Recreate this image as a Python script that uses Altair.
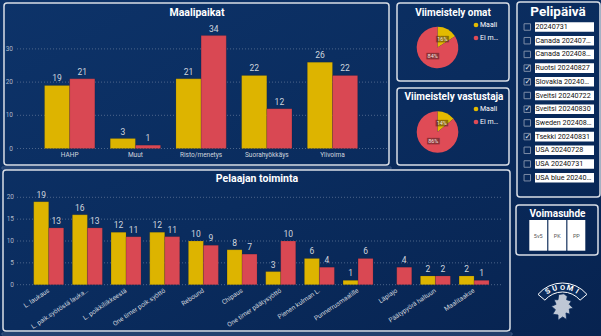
import math
import altair as alt
import pandas as pd

FONT = "Roboto"
YELLOW = "#DDB400"
RED = "#D94853"
PIE_YELLOW = "#E3BA00"
PIE_RED = "#DF4B56"
BORDER = "#d9dee6"
TICK_COL = "#aeb8c8"
VAL_COL = "#cfd5de"
GRID_COL = "#5d7396"

# ---------------- data ----------------
series = ["Omat", "Vastustaja"]

mp_cats = ["HAHP", "Muut", "Risto/menetys", "Suorahyökkäys", "Ylivoima"]
mp_omat = [19, 3, 21, 22, 26]
mp_vast = [21, 1, 34, 12, 22]
mp_ticks = [0, 10, 20, 30]

pt_cats = [
    "L. laukaus",
    "L. paik.syötöstä lauka…",
    "L. poikkiliikkeestä",
    "One timer poik.syöttö",
    "Rebound",
    "Chipaus",
    "One timer päätysyöttö",
    "Pienen kulman L.",
    "Punnerrusmaalille",
    "Läpiajo",
    "Päätypyörä haltuun",
    "Maalitaakse",
]
pt_omat = [19, 16, 12, 12, 10, 8, 3, 6, 1, None, 2, 2]
pt_vast = [13, 13, 11, 11, 9, 7, 10, 4, 6, 4, 2, 1]
pt_ticks = [0, 5, 10, 15, 20]

pie_labels = ["Maali", "Ei maali"]
omat_pct = [16, 84]
vast_pct = [14, 86]

slicer_items = [
    "20240731",
    "Canada 202407…",
    "Canada 202408…",
    "Ruotsi 20240827",
    "Slovakia 20240…",
    "Sveitsi 20240722",
    "Sveitsi 20240830",
    "Sweden 202408…",
    "Tsekki 20240831",
    "USA 20240728",
    "USA 20240731",
    "USA blue 20240…",
]
slicer_checked = [False, False, False, True, True, False, True, False, True, False, False, False]

power_items = ["5v5", "PK", "PP"]
logo_letters = ["S", "U", "O", "M", "I"]

one = pd.DataFrame({"k": [0]})


# ---------------- helpers ----------------
def box(x0, y0, x1, y1, color=BORDER, width=1.5, radius=3):
    return alt.Chart(one).mark_rect(
        fill="rgba(0,0,0,0)", stroke=color, strokeWidth=width, cornerRadius=radius
    ).encode(x=alt.value(x0), x2=alt.value(x1), y=alt.value(y0), y2=alt.value(y1))


def label(txt, x, y, size, weight="normal", color="white", align="center", font=FONT):
    return alt.Chart(one).mark_text(
        text=txt, fontSize=size, fontWeight=weight, color=color, align=align,
        baseline="middle", font=font,
    ).encode(x=alt.value(x), y=alt.value(y))


def bar_group(cats, a, b, ticks, xr, yr, ydom, pad_inner, grid_x, tick_x,
              xlab_y, xlab_angle, xlab_align, xlab_size):
    rows = []
    for c, va, vb in zip(cats, a, b):
        if va is not None:
            rows.append({"cat": c, "s": series[0], "v": va})
        if vb is not None:
            rows.append({"cat": c, "s": series[1], "v": vb})
    df = pd.DataFrame(rows)
    xs = alt.Scale(domain=cats, range=xr, paddingInner=pad_inner, paddingOuter=pad_inner / 2)
    ys = alt.Scale(domain=ydom, range=yr, nice=False, zero=True)
    cs = alt.Scale(domain=series, range=[YELLOW, RED])
    os_ = alt.Scale(domain=series, paddingInner=0, paddingOuter=0)
    tdf = pd.DataFrame({"t": ticks})
    cdf = pd.DataFrame({"cat": cats})

    grid = alt.Chart(tdf).mark_rule(strokeDash=[1, 2], color=GRID_COL, strokeWidth=0.8).encode(
        y=alt.Y("t:Q", scale=ys, axis=None), x=alt.value(grid_x[0]), x2=alt.value(grid_x[1])
    )
    ytxt = alt.Chart(tdf).mark_text(
        align="right", baseline="middle", fontSize=6.5, color=TICK_COL, font=FONT
    ).encode(y=alt.Y("t:Q", scale=ys, axis=None), x=alt.value(tick_x), text=alt.Text("t:Q"))
    bars = alt.Chart(df).mark_bar(stroke="#000000", strokeOpacity=0.15, strokeWidth=0.8).encode(
        x=alt.X("cat:N", scale=xs, axis=None, sort=cats),
        xOffset=alt.XOffset("s:N", scale=os_, sort=series),
        y=alt.Y("v:Q", scale=ys, axis=None),
        color=alt.Color("s:N", scale=cs, legend=None),
    )
    vals = alt.Chart(df).mark_text(
        dy=-7, fontSize=8.5, color=VAL_COL, baseline="middle", font=FONT
    ).encode(
        x=alt.X("cat:N", scale=xs, axis=None, sort=cats),
        xOffset=alt.XOffset("s:N", scale=os_, sort=series),
        y=alt.Y("v:Q", scale=ys, axis=None),
        text=alt.Text("v:Q"),
    )
    xtxt = alt.Chart(cdf).mark_text(
        fontSize=xlab_size, color=VAL_COL, baseline="middle", align=xlab_align,
        angle=xlab_angle, font=FONT,
    ).encode(
        x=alt.X("cat:N", scale=xs, axis=None, sort=cats),
        y=alt.value(xlab_y),
        text=alt.Text("cat:N"),
    )
    return alt.layer(grid, ytxt, bars, vals, xtxt)


def pie_group(pcts, cx, cy, lx, ly):
    df = pd.DataFrame({
        "name": pie_labels,
        "v": pcts,
        "o": list(range(len(pcts))),
        "lab": [f"{p}%" for p in pcts],
    })
    cs = alt.Scale(domain=pie_labels, range=[PIE_YELLOW, PIE_RED])
    base = alt.Chart(df).encode(
        theta=alt.Theta("v:Q", stack=True),
        order=alt.Order("o:Q"),
        x=alt.value(cx),
        y=alt.value(cy),
    )
    arc = base.mark_arc(outerRadius=20.8).encode(color=alt.Color("name:N", scale=cs, legend=None))
    bg = base.mark_text(
        radius=10, text="███", fontSize=5.5, color="#2a1010", opacity=0.45,
        baseline="middle", font="DejaVu Sans",
    )
    lab = base.mark_text(
        radius=10, fontSize=5.5, color="#f0e8e0", baseline="middle", font=FONT
    ).encode(text=alt.Text("lab:N"))
    ys = alt.Scale(type="point", domain=pie_labels, range=[ly, ly + 13], padding=0)
    dots = alt.Chart(df).mark_circle(size=22, opacity=1).encode(
        x=alt.value(lx), y=alt.Y("name:N", scale=ys, axis=None),
        color=alt.Color("name:N", scale=cs, legend=None),
    )
    ltxt = alt.Chart(df).mark_text(
        align="left", baseline="middle", fontSize=7, color="white", limit=22, font=FONT
    ).encode(x=alt.value(lx + 4), y=alt.Y("name:N", scale=ys, axis=None), text=alt.Text("name:N"))
    return alt.layer(arc, bg, lab, dots, ltxt)


def slicer_group():
    df = pd.DataFrame({"item": slicer_items, "checked": slicer_checked})
    ys = alt.Scale(domain=slicer_items, range=[20.15, 184.55], paddingInner=0.3, paddingOuter=0.15)
    y = alt.Y("item:N", scale=ys, axis=None, sort=slicer_items)
    cb = alt.Chart(df).mark_point(
        shape="square", size=42, filled=False, stroke="#7d8ca6", strokeWidth=1, opacity=1
    ).encode(x=alt.value(527.3), y=y)
    chk = alt.Chart(df).transform_filter("datum.checked").mark_text(
        text="✓", fontSize=8, color="#e8ecf2", baseline="middle", font="DejaVu Sans"
    ).encode(x=alt.value(527.8), y=y)
    rect = alt.Chart(df).mark_rect(fill="white").encode(
        x=alt.value(535), x2=alt.value(594), y=y
    )
    txt = alt.Chart(df).mark_text(
        align="left", baseline="middle", fontSize=7.2, color="#111111", font=FONT, limit=59
    ).encode(x=alt.value(535.5), y=y, text=alt.Text("item:N"))
    return alt.layer(cb, chk, rect, txt)


def power_group():
    df = pd.DataFrame({"p": power_items})
    xs = alt.Scale(domain=power_items, range=[529.3, 585.3], paddingInner=0.06, paddingOuter=0)
    x = alt.X("p:N", scale=xs, axis=None, sort=power_items)
    r = alt.Chart(df).mark_rect(fill="white").encode(x=x, y=alt.value(220), y2=alt.value(250.7))
    t = alt.Chart(df).mark_text(fontSize=5.5, color="#555555", baseline="middle", font=FONT).encode(
        x=x, y=alt.value(236), text=alt.Text("p:N")
    )
    return alt.layer(r, t)


# ---------------- assembly ----------------
bg = alt.Chart(one).mark_rect(
    fill=alt.Gradient(
        gradient="linear",
        stops=[
            alt.GradientStop(color="#0d3369", offset=0),
            alt.GradientStop(color="#0a2c5e", offset=0.5),
            alt.GradientStop(color="#072350", offset=1),
        ],
        x1=0, y1=0, x2=1, y2=1,
    )
).encode(x=alt.value(0), x2=alt.value(601), y=alt.value(0), y2=alt.value(336))

shadow1 = box(2, 167, 391, 169, color="#3e5b86", width=1, radius=0)
shadow2 = box(2, 333, 512, 335, color="#3e5b86", width=1, radius=0)

layers = [
    bg, shadow1, shadow2,
    box(4, 3, 389, 165),
    box(397, 3, 509, 81),
    box(397, 88, 509, 165),
    box(3, 170, 510, 331),
    box(517, 2, 600, 197),
    box(516, 205, 598, 255),
    label("Maalipaikat", 197, 13, 10.5, weight="bold"),
    label("Viimeistely omat", 453, 13, 10, weight="bold"),
    label("Viimeistely vastustaja", 454, 97, 10, weight="bold"),
    label("Pelaajan toiminta", 257, 179, 10.5, weight="bold"),
    label("Pelipäivä", 558, 12, 13.5, weight="bold"),
    label("Voimasuhde", 557.5, 214, 10, weight="bold"),
    bar_group(mp_cats, mp_omat, mp_vast, mp_ticks, [36.85, 365.35], [148.5, 48.9], [0, 30],
              0.234, (17, 387), 13, 155, 0, "center", 6.5),
    bar_group(pt_cats, pt_omat, pt_vast, pt_ticks, [29.37, 493.41], [284.7, 197.3], [0, 20],
              0.224, (17, 503), 14, 290, 326, "right", 6.5),
    pie_group(omat_pct, 437.5, 47.5, 476, 25),
    pie_group(vast_pct, 437.5, 132, 476, 109),
    slicer_group(),
    power_group(),
]

# logo: lion emblem (rough silhouette) and banner
LION = ("M-0.25,-0.95 L0.15,-1 L0.4,-0.8 L0.35,-0.55 L0.7,-0.45 L0.55,-0.2 L0.85,0.1 "
        "L0.55,0.15 L0.6,0.55 L0.3,0.45 L0.35,0.95 L0.05,0.75 L-0.3,1 L-0.3,0.6 "
        "L-0.7,0.55 L-0.5,0.2 L-0.8,-0.05 L-0.45,-0.2 L-0.6,-0.55 L-0.3,-0.55 Z")
layers.append(
    alt.Chart(one).mark_point(
        shape=LION, size=700, filled=True, fill="#dfe4ec", stroke="#0a2b5c",
        strokeWidth=0.8, opacity=0.85,
    ).encode(x=alt.value(562), y=alt.value(307))
)
layers.append(
    alt.Chart(one).mark_arc(
        theta=2 * math.pi - 0.87, theta2=2 * math.pi + 0.87, innerRadius=23, outerRadius=32,
        fill="#0a2b5c", stroke="white", strokeWidth=1,
    ).encode(x=alt.value(562.5), y=alt.value(315))
)
for i, ch in enumerate(logo_letters):
    deg = (i - 2) * 16
    layers.append(
        alt.Chart(one).mark_text(
            text=ch, fontSize=7.5, fontWeight="bold", color="white", baseline="middle",
            theta=math.radians(deg % 360), radius=27.5, angle=deg % 360, font=FONT,
        ).encode(x=alt.value(562.5), y=alt.value(315))
    )

chart = alt.layer(*layers).resolve_scale(
    x="independent", y="independent", color="independent",
    theta="independent", xOffset="independent",
).properties(
    width=601, height=336, padding=0,
    autosize=alt.AutoSizeParams(type="none"),
).configure_view(stroke=None).configure(background="#0a2b5c")

chart.save("out.html", embed_options={"renderer": "svg", "actions": False})
